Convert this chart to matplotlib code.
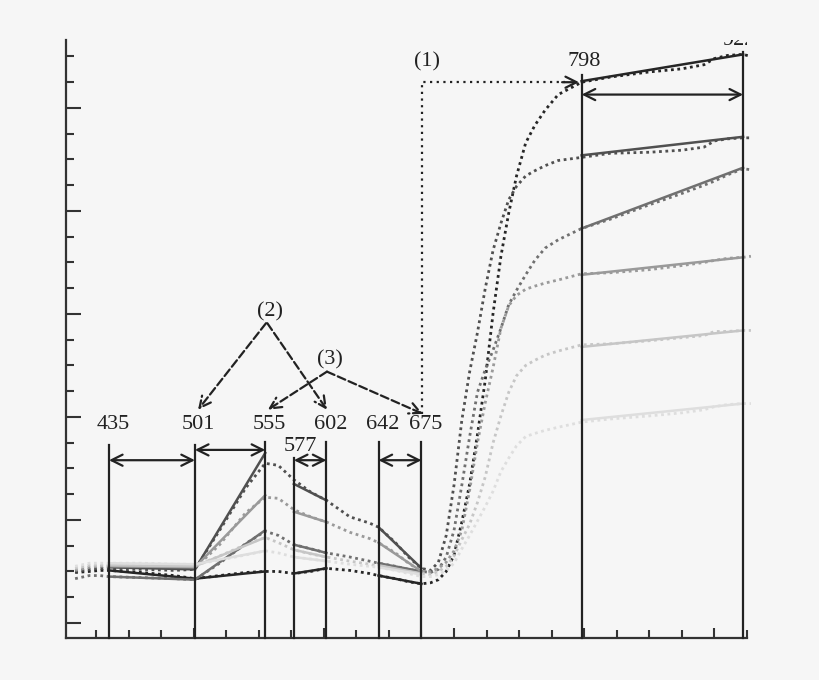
import numpy as np
import matplotlib.pyplot as plt
from matplotlib.ticker import MultipleLocator, NullFormatter

# wavelength grid of the measured spectra (nm)
wl = [409, 420, 428, 435, 460, 485, 501, 520, 540, 555, 565, 577, 590, 602,
      620, 635, 642, 655, 665, 675, 682, 688, 694, 700, 706, 712, 718, 724,
      730, 736, 742, 748, 755, 762, 770, 780, 798, 820, 850, 875, 892, 900,
      910, 922, 928]

# reflectance (%) of the six samples
spec_a = [4.9, 5.0, 5.1, 5.1, 4.9, 4.6, 4.3, 4.6, 4.9, 5.0, 5.0, 4.8, 5.0, 5.3,
          5.1, 4.8, 4.6, 4.3, 4.0, 3.8, 3.9, 4.2, 5.0, 6.6, 9.8, 13.5, 18.3, 23.6,
          30.1, 35.6, 39.8, 43.4, 46.6, 48.3, 49.8, 51.3, 52.5, 53.0, 53.5, 53.8,
          54.2, 54.8, 55.1, 55.2, 55.0]
spec_b = [5.0, 5.2, 5.3, 5.3, 5.2, 5.1, 5.2, 9.0, 13.1, 15.5, 15.3, 13.9, 12.7, 11.9,
          10.3, 9.7, 9.3, 7.8, 6.4, 5.3, 5.1, 5.9, 8.5, 13.4, 19.7, 24.4, 28.2, 32.5,
          36.2, 38.8, 41.1, 42.4, 43.4, 43.9, 44.4, 44.9, 45.2, 45.6, 45.7, 45.9,
          46.2, 46.8, 47.0, 47.1, 47.1]
spec_c = [4.3, 4.6, 4.6, 4.5, 4.4, 4.3, 4.2, 5.8, 7.7, 8.9, 8.5, 7.6, 7.2, 6.8,
          6.4, 6.0, 5.8, 5.5, 5.2, 5.0, 4.9, 5.2, 6.4, 9.0, 13.4, 18.1, 22.4, 24.6,
          26.5, 28.6, 30.9, 32.3, 33.8, 35.2, 36.4, 37.2, 38.3, 39.2, 40.6, 41.7,
          42.5, 42.9, 43.5, 44.1, 44.0]
spec_d = [5.1, 5.4, 5.5, 5.5, 5.4, 5.3, 5.3, 7.6, 10.7, 12.2, 12.1, 11.0, 10.3, 9.8,
          8.8, 8.2, 7.8, 6.8, 5.8, 5.0, 5.0, 5.3, 5.9, 7.0, 9.0, 12.9, 17.5, 21.4,
          24.8, 28.6, 30.8, 31.8, 32.4, 32.7, 33.0, 33.3, 33.9, 34.0, 34.3, 34.7,
          35.0, 35.2, 35.4, 35.5, 35.6]
spec_e = [5.3, 5.6, 5.6, 5.6, 5.6, 5.5, 5.5, 6.5, 7.6, 8.3, 7.8, 7.1, 6.7, 6.4,
          6.0, 5.7, 5.5, 5.2, 5.0, 4.8, 4.7, 5.0, 5.5, 6.5, 8.1, 9.6, 11.7, 14.2,
          17.5, 20.1, 22.4, 24.0, 25.0, 25.5, 26.0, 26.4, 27.0, 27.1, 27.4, 27.7,
          27.9, 28.3, 28.3, 28.4, 28.4]
spec_f = [5.5, 5.8, 5.8, 5.8, 5.8, 5.7, 5.7, 6.1, 6.6, 7.0, 6.8, 6.4, 6.2, 6.0,
          5.7, 5.5, 5.4, 5.1, 4.8, 4.5, 4.5, 4.7, 5.1, 5.8, 7.2, 8.5, 9.9, 11.3,
          12.8, 14.7, 16.0, 17.2, 18.1, 18.4, 18.7, 19.0, 19.5, 19.8, 20.1, 20.4,
          20.7, 21.0, 21.2, 21.3, 21.3]

# band edges and band reflectance (%)
bands = [435, 501, 555, 577, 602, 642, 675, 798, 922]
band_a = [5.1, 4.3, 5.0, 4.8, 5.3, 4.6, 3.8, 52.6, 55.2]
band_b = [5.4, 5.2, 16.5, 13.5, 11.9, 9.3, 5.3, 45.4, 47.2]
band_c = [4.5, 4.2, 9.0, 7.6, 6.8, 5.8, 5.0, 38.3, 44.2]
band_d = [5.5, 5.4, 12.4, 10.8, 9.8, 7.8, 5.0, 33.8, 35.5]
band_e = [5.6, 5.5, 8.3, 7.1, 6.4, 5.6, 4.8, 26.8, 28.4]
band_f = [5.8, 5.7, 7.0, 6.4, 6.0, 5.4, 4.7, 19.7, 21.3]

spectra = [spec_a, spec_b, spec_c, spec_d, spec_e, spec_f]
band_vals = [band_a, band_b, band_c, band_d, band_e, band_f]
colors = ['#262626', '#505050', '#707070', '#9a9a9a', '#c6c6c6', '#dedede']

# index pairs of bands joined by a solid line
segments = [(0, 1), (1, 2), (3, 4), (5, 6), (7, 8)]

fig = plt.figure(figsize=(8.2, 6.8), dpi=100, facecolor='#f6f6f6')
ax = fig.add_axes([0.0805, 0.0618, 0.8305, 0.8794])
ax.set_facecolor('#f6f6f6')
ax.set_xlim(402, 925)
ax.set_ylim(-1.46, 56.6)

for s, b, c in zip(spectra, band_vals, colors):
    ax.plot(wl, s, color=c, lw=2.0, ls=(0, (1.0, 1.3)), clip_on=False, zorder=2)
    for i, j in segments:
        ax.plot([bands[i], bands[j]], [b[i], b[j]], color=c, lw=1.8, zorder=3)

# band boundary lines
ink = '#222222'
line_top = [17.3, 17.3, 17.6, 16.0, 17.6, 17.6, 17.6, 53.2, 55.4]
for x, t in zip(bands, line_top):
    ax.plot([x, x], [-1.46, t], color=ink, lw=1.6, zorder=4, clip_on=False)

tfont = dict(family='Liberation Serif', fontsize=16, color=ink)
for x in [435, 501, 555, 602, 642, 675]:
    ax.text(x + 3, 18.3, str(x), ha='center', va='bottom', **tfont)
ax.text(582, 16.2, '577', ha='center', va='bottom', **tfont)
ax.text(800, 53.6, '798', ha='center', va='bottom', **tfont)
# label of the last band, cut off by the top of the frame
ax.text(919, 56.1, '922', ha='center', va='baseline', clip_on=True, **tfont)

# double arrows spanning each band
spans = [(435, 501, 15.8), (501, 555, 16.8), (577, 602, 15.8),
         (642, 675, 15.8), (798, 922, 51.3)]
for x0, x1, y in spans:
    ax.annotate('', xy=(x1, y), xytext=(x0, y),
                arrowprops=dict(arrowstyle='<->', color=ink, lw=1.6,
                                mutation_scale=20, shrinkA=0, shrinkB=0))

# (1) dotted link 675 -> 798
ax.plot([675.4, 675.4, 785], [20.3, 52.5, 52.5], color=ink, lw=1.6, ls=(0, (1, 2)))
ax.annotate('', xy=(796, 52.5), xytext=(783, 52.5),
            arrowprops=dict(arrowstyle='->', color=ink, lw=1.6,
                            mutation_scale=20, shrinkA=0, shrinkB=0))
ax.text(679, 54.5, '(1)', ha='center', va='center', **tfont)

# (2) and (3) dashed links
ax.text(559, 30.2, '(2)', ha='center', va='center', **tfont)
ax.text(605, 25.5, '(3)', ha='center', va='center', **tfont)
links = [((555.6, 29.1), (503.4, 20.7)), ((556.6, 29.1), (602.4, 20.7)),
         ((602.4, 24.4), (557.0, 20.7)), ((602.4, 24.4), (676.0, 20.3))]
for start, end in links:
    ax.annotate('', xy=end, xytext=start,
                arrowprops=dict(arrowstyle='->', color=ink, lw=1.6, ls='--',
                                mutation_scale=20, shrinkA=0, shrinkB=0))

for side in ['top', 'right']:
    ax.spines[side].set_visible(False)
for side in ['left', 'bottom']:
    ax.spines[side].set_color('#333333')
    ax.spines[side].set_linewidth(1.6)

ax.xaxis.set_major_locator(MultipleLocator(100))
ax.xaxis.set_minor_locator(MultipleLocator(25))
ax.yaxis.set_major_locator(MultipleLocator(10))
ax.yaxis.set_minor_locator(MultipleLocator(2.5))
ax.xaxis.set_major_formatter(NullFormatter())
ax.yaxis.set_major_formatter(NullFormatter())
ax.tick_params(which='both', direction='in', color='#333333', width=1.5)
ax.tick_params(axis='y', which='major', length=11)
ax.tick_params(axis='y', which='minor', length=5.5)
ax.tick_params(axis='x', which='major', length=7)
ax.tick_params(axis='x', which='minor', length=5.5)

fig.savefig('out.png', dpi=100, facecolor=fig.get_facecolor())
